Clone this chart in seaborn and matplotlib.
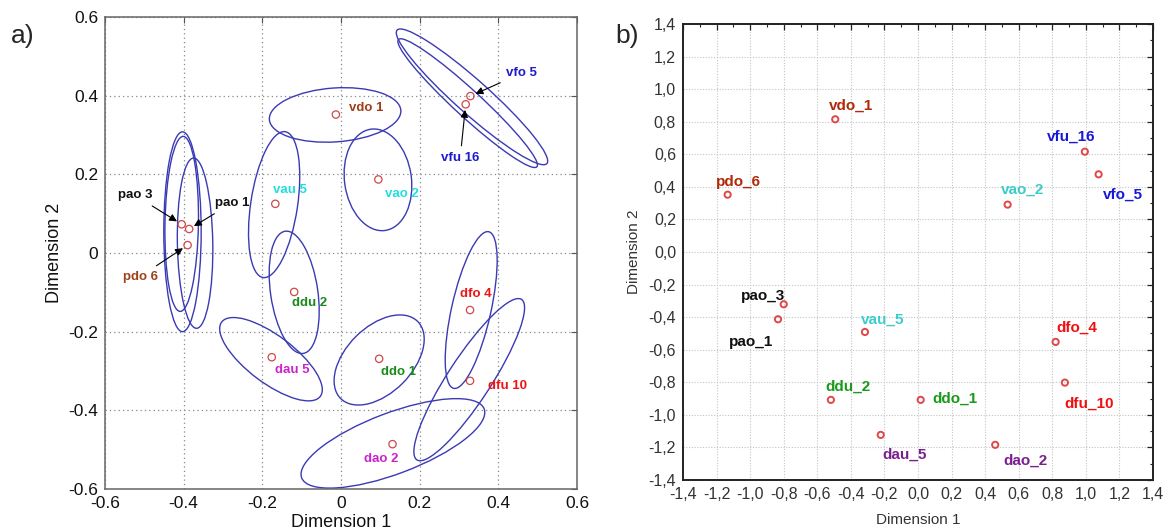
import numpy as np
import pandas as pd
import matplotlib
matplotlib.use("Agg")
import matplotlib.pyplot as plt
from matplotlib.patches import Ellipse
from matplotlib.ticker import MultipleLocator, FuncFormatter
import seaborn as sns

# ---------------- panel a: MDS solution with confidence ellipses ----------------
a_labels = ["pao 3", "pao 1", "pdo 6", "vau 5", "vdo 1", "vao 2", "vfo 5",
            "vfu 16", "ddu 2", "dau 5", "ddo 1", "dfo 4", "dfu 10", "dao 2"]
a_dim1 = [-0.405, -0.386, -0.390, -0.167, -0.013, 0.095, 0.329,
          0.317, -0.119, -0.176, 0.097, 0.328, 0.328, 0.131]
a_dim2 = [0.073, 0.061, 0.020, 0.125, 0.352, 0.187, 0.399,
          0.378, -0.099, -0.265, -0.269, -0.145, -0.325, -0.486]

# confidence ellipses: centre, axis lengths, rotation (deg)
ell_cx = [-0.403, -0.405, -0.371, -0.170, -0.015, 0.094, 0.333,
          0.322, -0.119, -0.178, 0.097, 0.331, 0.326, 0.132]
ell_cy = [0.054, 0.074, 0.025, 0.123, 0.351, 0.186, 0.397,
          0.381, -0.100, -0.270, -0.272, -0.145, -0.322, -0.484]
ell_w = [0.095, 0.085, 0.090, 0.119, 0.335, 0.170, 0.510,
         0.478, 0.120, 0.314, 0.277, 0.100, 0.487, 0.496]
ell_h = [0.508, 0.445, 0.433, 0.375, 0.137, 0.260, 0.085,
         0.068, 0.314, 0.120, 0.168, 0.408, 0.110, 0.155]
ell_ang = [0, -1, 1, -8.6, 4, 8, -41.7,
           -42.6, 8.4, -37, 45, -12.6, 56.9, 20.7]

# ---------------- panel b: second MDS solution ----------------
b_labels = ["pdo_6", "vdo_1", "vfu_16", "vfo_5", "vao_2", "pao_3", "pao_1",
            "vau_5", "ddu_2", "ddo_1", "dau_5", "dao_2", "dfo_4", "dfu_10"]
b_dim1 = [-1.134, -0.493, 0.994, 1.076, 0.534, -0.800, -0.834,
          -0.316, -0.519, 0.016, -0.222, 0.460, 0.820, 0.875]
b_dim2 = [0.352, 0.815, 0.616, 0.477, 0.291, -0.321, -0.413,
          -0.491, -0.908, -0.908, -1.123, -1.184, -0.552, -0.802]

# ---------------- label placement and colours ----------------
a_text_xy = {
    "pao 3": (-0.524, 0.147), "pao 1": (-0.277, 0.127), "pdo 6": (-0.511, -0.060),
    "vau 5": (-0.129, 0.160), "vdo 1": (0.065, 0.368), "vao 2": (0.154, 0.150),
    "vfo 5": (0.459, 0.457), "vfu 16": (0.303, 0.242), "ddu 2": (-0.079, -0.128),
    "dau 5": (-0.123, -0.298), "ddo 1": (0.146, -0.303), "dfo 4": (0.343, -0.103),
    "dfu 10": (0.424, -0.338), "dao 2": (0.103, -0.523),
}
a_arrows = {"pao 3", "pao 1", "pdo 6", "vfo 5", "vfu 16"}

b_text_xy = {
    "pdo_6": (-1.071, 0.432), "vdo_1": (-0.401, 0.897), "vfu_16": (0.915, 0.708),
    "vfo_5": (1.223, 0.350), "vao_2": (0.623, 0.385), "pao_3": (-0.922, -0.270),
    "pao_1": (-0.995, -0.550), "vau_5": (-0.209, -0.417), "ddu_2": (-0.419, -0.826),
    "ddo_1": (0.220, -0.898), "dau_5": (-0.078, -1.246), "dao_2": (0.643, -1.283),
    "dfo_4": (0.945, -0.468), "dfu_10": (1.018, -0.933),
}

a_colors = {"pa": "#111111", "pd": "#a0401a", "vd": "#a0401a", "va": "#22dede",
            "vf": "#1c1ccc", "dd": "#1a8a1a", "da": "#cc22cc", "df": "#ee1515"}
b_colors = {"pa": "#111111", "pd": "#b02a08", "vd": "#b02a08", "va": "#3ccccc",
            "vf": "#1818d8", "dd": "#1a9a1a", "da": "#7a1f8f", "df": "#f01010"}

sns.set_style("white")
plt.rcParams["font.family"] = ["Liberation Sans", "DejaVu Sans"]

fig = plt.figure(figsize=(11.71, 5.32), dpi=100)
ax_a = fig.add_axes([105 / 1171, 1 - 489 / 532, 472 / 1171, 472 / 532])
ax_b = fig.add_axes([683 / 1171, 1 - 480 / 532, 470 / 1171, 456 / 532])

# ---- panel a ----
df_a = pd.DataFrame({"Dimension 1": a_dim1, "Dimension 2": a_dim2, "label": a_labels})
for cx, cy, w, h, ang in zip(ell_cx, ell_cy, ell_w, ell_h, ell_ang):
    ax_a.add_patch(Ellipse((cx, cy), w, h, angle=ang, fill=False,
                           edgecolor="#3a3ab4", lw=1.0, zorder=2))
sns.scatterplot(data=df_a, x="Dimension 1", y="Dimension 2", ax=ax_a,
                marker="o", s=28, facecolors="none", edgecolor="#d04848",
                linewidth=0.9, zorder=3)
for coll in ax_a.collections:
    coll.set_facecolor("none")
    coll.set_edgecolor("#d04848")

for lab, px, py in zip(a_labels, a_dim1, a_dim2):
    tx, ty = a_text_xy[lab]
    col = a_colors[lab[:2]]
    if lab in a_arrows:
        ax_a.annotate(lab, xy=(px, py), xytext=(tx, ty), ha="center", va="center",
                      fontsize=9.5, fontweight="bold", color=col, zorder=4,
                      arrowprops=dict(arrowstyle="-|>", color="black", lw=0.8,
                                      mutation_scale=11, shrinkA=2, shrinkB=4))
    else:
        ax_a.text(tx, ty, lab, ha="center", va="center", fontsize=9.5,
                  fontweight="bold", color=col, zorder=4)

ax_a.set_xlim(-0.6, 0.6)
ax_a.set_ylim(-0.6, 0.6)
ax_a.xaxis.set_major_locator(MultipleLocator(0.2))
ax_a.yaxis.set_major_locator(MultipleLocator(0.2))
fmt_a = FuncFormatter(lambda v, p: "0" if abs(v) < 1e-9 else f"{v:g}")
ax_a.xaxis.set_major_formatter(fmt_a)
ax_a.yaxis.set_major_formatter(fmt_a)
ax_a.grid(True, linestyle=(0, (1, 2.5)), color="#888888", lw=0.9)
ax_a.tick_params(direction="in", length=4, width=0.8, labelsize=12.5, pad=5,
                 top=True, right=True, colors="#555555", labelcolor="#111111")
for sp in ax_a.spines.values():
    sp.set_color("#666666")
    sp.set_linewidth(1.1)
ax_a.set_xlabel("Dimension 1", fontsize=13, labelpad=2, color="#111111")
ax_a.set_ylabel("Dimension 2", fontsize=13, labelpad=4, color="#111111")

# ---- panel b ----
df_b = pd.DataFrame({"Dimension 1": b_dim1, "Dimension 2": b_dim2, "label": b_labels})
sns.scatterplot(data=df_b, x="Dimension 1", y="Dimension 2", ax=ax_b,
                marker="o", s=20, facecolors="none", edgecolor="#e04848",
                linewidth=1.4, zorder=3)
for coll in ax_b.collections:
    coll.set_facecolor("none")
    coll.set_edgecolor("#e04848")

for lab in b_labels:
    tx, ty = b_text_xy[lab]
    ax_b.text(tx, ty, lab, ha="center", va="center", fontsize=11,
              fontweight="bold", color=b_colors[lab[:2]], zorder=4)

ax_b.set_xlim(-1.4, 1.4)
ax_b.set_ylim(-1.4, 1.4)
ax_b.xaxis.set_major_locator(MultipleLocator(0.2))
ax_b.yaxis.set_major_locator(MultipleLocator(0.2))
ax_b.xaxis.set_minor_locator(MultipleLocator(0.1))
ax_b.yaxis.set_minor_locator(MultipleLocator(0.1))
fmt_b = FuncFormatter(lambda v, p: f"{v:.1f}".replace("-0.0", "0.0").replace(".", ","))
ax_b.xaxis.set_major_formatter(fmt_b)
ax_b.yaxis.set_major_formatter(fmt_b)
ax_b.grid(True, which="major", linestyle=(0, (1, 1.5)), color="#c4c4c4", lw=0.8)
ax_b.tick_params(which="both", direction="in", top=True, right=True,
                 colors="#222222", labelcolor="#333333")
ax_b.tick_params(which="major", length=4, width=0.9, labelsize=11.5, pad=5)
ax_b.tick_params(which="minor", length=2.5, width=0.8)
for sp in ax_b.spines.values():
    sp.set_color("#222222")
    sp.set_linewidth(1.4)
ax_b.set_xlabel("Dimension 1", fontsize=11, labelpad=8, color="#333333")
ax_b.set_ylabel("Dimension 2", fontsize=11, labelpad=5, color="#333333")

fig.text(23 / 1171, 1 - 36 / 532, "a)", fontsize=19, ha="center", va="center")
fig.text(627 / 1171, 1 - 36 / 532, "b)", fontsize=19, ha="center", va="center")

fig.savefig("out.png", dpi=100, facecolor="white")
